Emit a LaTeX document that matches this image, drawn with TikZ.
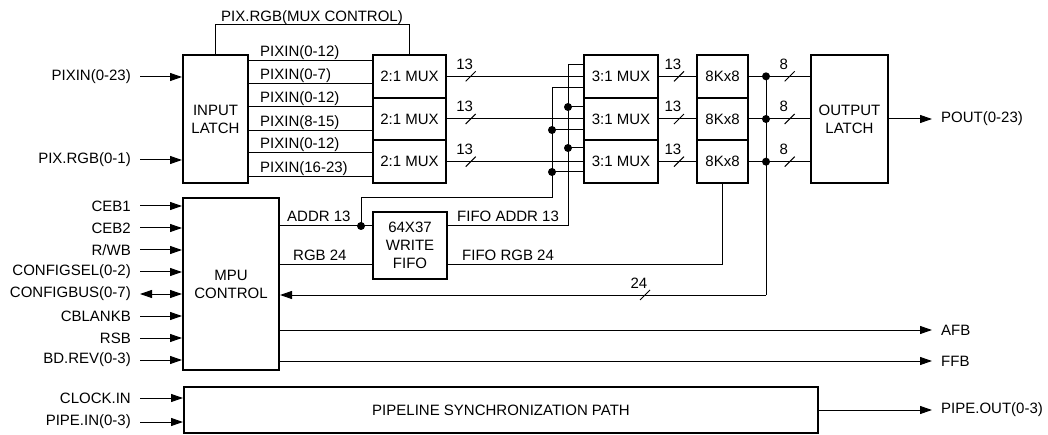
\documentclass[tikz,border=0pt]{standalone}
\usepackage{fontspec}
\setmainfont{Liberation Sans}
\usetikzlibrary{arrows.meta}

\begin{document}
\begin{tikzpicture}[
    x=1pt, y=-1pt,
    font=\fontsize{15pt}{18pt}\selectfont,
    blk/.style={draw, line width=2pt, align=center, inner sep=0pt},
    wire/.style={line width=1pt},
    arrow/.style={wire, -{Triangle[length=12pt,width=8pt]}},
    dual/.style={wire, {Triangle[length=12pt,width=8pt]}-{Triangle[length=12pt,width=8pt]}},
    lbl/.style={inner sep=0pt},
    inlbl/.style={inner xsep=9pt, inner ysep=0pt, anchor=east},
    outlbl/.style={inner xsep=9pt, inner ysep=0pt, anchor=west},
    dot/.style={circle, fill, inner sep=0pt, minimum size=8pt},
    pics/bus/.style={code={
        \draw[wire, -] (-5,5) -- (5,-5);
        \node[lbl, anchor=base] at (-6,-7) {#1};}}
]
\useasboundingbox (0,0) rectangle (1048,435);

% blocks
\node[blk, minimum width=65pt, minimum height=128pt] (latch) at (215.5,119) {INPUT\\LATCH};
\foreach \n/\y in {a/76.33, b/119, c/161.67} {
  \node[blk, minimum width=73pt, minimum height=42.67pt] (mux2\n) at (409.5,\y) {2:1 MUX};
  \node[blk, minimum width=74pt, minimum height=42.67pt] (mux3\n) at (621,\y) {3:1 MUX};
  \node[blk, minimum width=51pt, minimum height=42.67pt] (ram\n) at (722.5,\y) {8Kx8};
}
\node[blk, minimum width=77pt, minimum height=128pt] (outl) at (849.5,119) {OUTPUT\\LATCH};
\node[blk, minimum width=96pt, minimum height=172pt] (mpu) at (231,284) {MPU\\CONTROL};
\node[blk, minimum width=74pt, minimum height=67pt] (fifo) at (410,245.5) {64X37\\WRITE\\FIFO};
\node[blk, minimum width=634pt, minimum height=46pt] (pipe) at (501,410) {PIPELINE SYNCHRONIZATION PATH};

% input latch side
\node[inlbl] (pixin) at (140,77) {PIXIN(0-23)};
\node[inlbl] (pixrgb) at (140,160) {PIX.RGB(0-1)};
\draw[arrow] (pixin.east) -- (latch.west |- pixin);
\draw[arrow] (pixrgb.east) -- (latch.west |- pixrgb);
\draw[wire] (latch.north) -- ++(0,-29) -| (mux2a.north);
\node[lbl, anchor=base] (muxctl) at (312,22) {PIX.RGB(MUX CONTROL)};
\foreach \m/\ya/\yb/\ta/\tb in {a/61/84/{PIXIN(0-12)}/{PIXIN(0-7)},
    b/107/131/{PIXIN(0-12)}/{PIXIN(8-15)}, c/153/177/{PIXIN(0-12)}/{PIXIN(16-23)}} {
  \draw[wire] (latch.east |- 0,\ya) -- (mux2\m.west |- 0,\ya);
  \draw[wire] (latch.east |- 0,\yb) -- (mux2\m.west |- 0,\yb);
  \node[lbl, anchor=base west] at (260,\ya-4) {\ta};
  \node[lbl, anchor=base west] at (260,\yb-4) {\tb};
}

% data path
\foreach \n in {a,b,c} {
  \draw[wire] (mux2\n.east) -- pic[pos=.174]{bus=13} (mux3\n.west |- mux2\n.east);
  \draw[wire] (mux3\n.east) -- pic[pos=.54]{bus=13} (ram\n.west);
  \draw[wire] (ram\n.east) -- pic[pos=.667]{bus=8} (outl.west |- ram\n.east);
  \node[dot] (tap\n) at ([xshift=17pt]ram\n.east) {};
}
\node[outlbl] (pout) at (932,119) {POUT(0-23)};
\draw[arrow] (outl.east |- pout) -- (pout.west);

% address buses into the 3:1 muxes
\node[dot] (atap) at (361,226) {};
\draw[wire] (atap.center) |- (552,198) |- (mux3a.west |- 0,88);
\draw[wire] (fifo.east |- 0,226) -| (568,65) -- (mux3a.west |- 0,65);
\node[dot] (ab) at (552,130) {};
\node[dot] (ac) at (552,172) {};
\node[dot] (fb) at (568,107) {};
\node[dot] (fc) at (568,148) {};
\draw[wire] (ab.center) -- (mux3b.west |- ab);
\draw[wire] (ac.center) -- (mux3c.west |- ac);
\draw[wire] (fb.center) -- (mux3b.west |- fb);
\draw[wire] (fc.center) -- (mux3c.west |- fc);

% mpu and fifo
\draw[wire] (mpu.east |- 0,226) -- (fifo.west |- 0,226);
\draw[wire] (mpu.east |- 0,265) -- (fifo.west |- 0,265);
\draw[wire] (fifo.east |- 0,265) -| (ramc.south);
\node[lbl, anchor=base west] at (287,222) {ADDR 13};
\node[lbl, anchor=base west] at (293,261) {RGB 24};
\node[lbl, anchor=base west] at (457,222) {FIFO ADDR 13};
\node[lbl, anchor=base west] at (462,261) {FIFO RGB 24};
\coordinate (rback) at (tapa |- 0,295);
\draw[wire] (tapa.center) -- (rback);
\draw[arrow] (rback) -- pic[pos=.249]{bus=24} (mpu.east |- rback);

% mpu inputs and outputs
\foreach \n/\t/\y in {ceb1/CEB1/206, ceb2/CEB2/228, rwb/{R/WB}/250, cfgsel/{CONFIGSEL(0-2)}/272,
    cblank/CBLANKB/316, rsb/RSB/338, bdrev/{BD.REV(0-3)}/360} {
  \node[inlbl] (\n) at (140,\y) {\t};
  \draw[arrow] (\n.east) -- (mpu.west |- \n);
}
\node[inlbl] (cfgbus) at (140,294) {CONFIGBUS(0-7)};
\draw[dual] (cfgbus.east) -- (mpu.west |- cfgbus);
\node[outlbl] (afb) at (932,330) {AFB};
\node[outlbl] (ffb) at (932,361) {FFB};
\draw[arrow] (mpu.east |- afb) -- (afb.west);
\draw[arrow] (mpu.east |- ffb) -- (ffb.west);

% pipeline
\node[inlbl] (clkin) at (140,398) {CLOCK.IN};
\node[inlbl] (pipein) at (140,422) {PIPE.IN(0-3)};
\node[outlbl] (pipeout) at (932,410) {PIPE.OUT(0-3)};
\draw[arrow] (clkin.east) -- (pipe.west |- clkin);
\draw[arrow] (pipein.east) -- (pipe.west |- pipein);
\draw[arrow] (pipe.east |- pipeout) -- (pipeout.west);
\end{tikzpicture}
\end{document}
